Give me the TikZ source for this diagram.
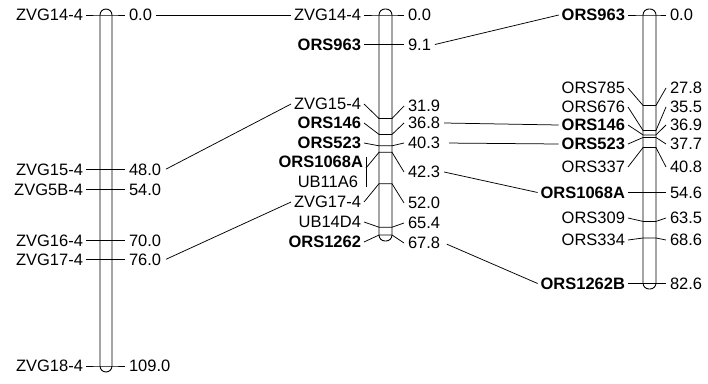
\documentclass[tikz,border=0pt]{standalone}
\usepackage{fontspec}
\setmainfont{Liberation Sans}
\newcommand\mkfont{\fontsize{16.5}{19}\selectfont}
\tikzset{
  lab/.style={anchor=east, inner xsep=3pt, inner ysep=2pt, outer sep=0pt, font=\mkfont},
  num/.style={anchor=west, inner xsep=4pt, inner ysep=2pt, outer sep=0pt, font=\mkfont},
  chrom/.style={draw, line width=0.9pt, rounded corners=6pt},
  link/.style={line width=0.75pt},
}
% id, ylabel, ymark, ynumber, label, number
\newcommand\mk[6]{%
  \node[lab] (#1l) at (\XL,#2) {#5};
  \node[num] (#1n) at (\XR,#4) {#6};
  \coordinate (#1a) at (\XA,#3);
  \coordinate (#1b) at (\XB,#3);
  \draw[link] (#1l.east) -- (#1a) -- (#1b) -- (#1n.west);
}
\begin{document}
\begin{tikzpicture}[x=1pt,y=-1pt]
\useasboundingbox (0,0) rectangle (708,383);
% chromosomes
\draw[chrom] (100,9) rectangle (112,372);
\draw[chrom] (379,9) rectangle (392,241);
\draw[chrom] (643,9) rectangle (656,289);
% left map
\def\XL{86}\def\XA{100}\def\XB{112}\def\XR{125}
\mk{L0}{15}{15}{15}{ZVG14-4}{0.0}
\mk{L48}{169.6}{169.6}{169.6}{ZVG15-4}{48.0}
\mk{L54}{189.5}{189.5}{189.5}{ZVG5B-4}{54.0}
\mk{L70}{240.4}{240.4}{240.4}{ZVG16-4}{70.0}
\mk{L76}{259.7}{259.7}{259.7}{ZVG17-4}{76.0}
\mk{L109}{366}{366}{366}{ZVG18-4}{109.0}
% middle map
\def\XL{364}\def\XA{379}\def\XB{392}\def\XR{404}
\mk{M0}{15}{15}{15}{ZVG14-4}{0.0}
\mk{M9}{44.5}{44.5}{44.5}{\bfseries ORS963}{9.1}
\mk{M31}{104}{118.5}{106}{ZVG15-4}{31.9}
\mk{M36}{123}{134.4}{123}{\bfseries ORS146}{36.8}
\mk{M40}{143}{145.8}{143}{\bfseries ORS523}{40.3}
\node[lab] (M42l1) at (366,162) {\bfseries ORS1068A};
\node[lab] (M42l2) at (361,182) {UB11A6};
\node[num] (M42n) at (\XR,172) {42.3};
\coordinate (M42t) at (366,157);
\coordinate (M42u) at (366,187);
\coordinate (M42m) at (366,168);
\coordinate (M42a) at (\XA,152.3);
\coordinate (M42b) at (\XB,152.3);
\draw[link] (M42t) -- (M42u);
\draw[link] (M42m) -- (M42a) -- (M42b) -- (M42n.west);
\mk{M52}{202}{183.7}{203}{ZVG17-4}{52.0}
\mk{M65}{222}{227.2}{223}{UB14D4}{65.4}
\mk{M67}{242}{235}{243}{\bfseries ORS1262}{67.8}
% right map
\def\XL{628}\def\XA{643}\def\XB{656}\def\XR{666}
\mk{R0}{15}{15}{15}{\bfseries ORS963}{0.0}
\mk{R27}{88}{105.4}{88}{ORS785}{27.8}
\mk{R35}{107}{130.4}{107}{ORS676}{35.5}
\mk{R36}{125}{134.9}{125}{\bfseries ORS146}{36.9}
\mk{R37}{144}{137.5}{144}{\bfseries ORS523}{37.7}
\mk{R40}{167}{147.6}{167}{ORS337}{40.8}
\mk{R54}{192.5}{192.5}{192.5}{\bfseries ORS1068A}{54.6}
\mk{R63}{218}{221.4}{218}{ORS309}{63.5}
\mk{R68}{240}{238}{240}{ORS334}{68.6}
\mk{R82}{283.5}{283.5}{283.5}{\bfseries ORS1262B}{82.6}
% links between maps
\draw[link] (L0n.east) -- (M0l.west);
\draw[link, shorten <=1pt] (L48n.east) -- (M31l.west);
\draw[link, shorten <=1pt] (L76n.east) -- (M52l.west);
\draw[link] (M9n.east) -- (R0l.west);
\draw[link] (M36n.east) -- (R36l.west);
\draw[link, shorten <=5pt] (M40n.east) -- (R37l.west);
\draw[link] (M42n.east) -- (R54l.west);
\draw[link, shorten <=3pt] (M67n.east) -- (R82l.west);
\end{tikzpicture}
\end{document}
